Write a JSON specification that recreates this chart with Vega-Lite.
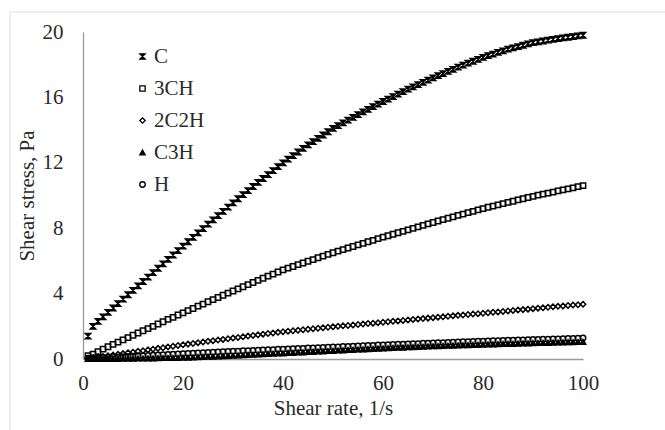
{
  "$schema": "https://vega.github.io/schema/vega-lite/v6.json",
  "width": 500,
  "height": 327,
  "autosize": {"type": "none"},
  "padding": {"left": 83, "top": 32, "right": 82, "bottom": 71},
  "background": "white",
  "config": {
    "view": {"stroke": null},
    "font": "Liberation Serif",
    "axis": {"labelFont": "Liberation Serif", "titleFont": "Liberation Serif", "labelFontSize": 21, "titleFontSize": 21, "labelColor": "#2a2a2a", "titleColor": "#2a2a2a", "titleFontWeight": "normal", "domainColor": "#9a9a9a", "domainWidth": 1.3, "ticks": false, "grid": false, "labelFlush": false},
    "legend": {"labelFont": "Liberation Serif", "labelFontSize": 21, "labelColor": "#2a2a2a"}
  },
  "layer": [
    {
      "data": {"values": [
        {"bx": -14.6, "bx2": -14.6, "by": -4.4, "by2": 21.22},
        {"bx": -14.6, "bx2": 116.6, "by": 21.22, "by2": 21.22}
      ]},
      "mark": {"type": "rule", "color": "#dcdcdc", "strokeWidth": 1, "clip": false},
      "encoding": {
        "x": {"field": "bx", "type": "quantitative", "scale": {"domain": [0, 100], "nice": false}},
        "x2": {"field": "bx2"},
        "y": {"field": "by", "type": "quantitative", "scale": {"domain": [0, 20], "nice": false}},
        "y2": {"field": "by2"}
      }
    },
    {
      "data": {"values": [
{"x":1,"C":1.4,"3CH":0.2,"2C2H":0.05,"C3H":0,"H":0.05},
{"x":2,"C":2.0,"3CH":0.3,"2C2H":0.09,"C3H":0,"H":0.06},
{"x":3,"C":2.3,"3CH":0.45,"2C2H":0.13,"C3H":0.01,"H":0.07},
{"x":4,"C":2.58,"3CH":0.6,"2C2H":0.16,"C3H":0.01,"H":0.09},
{"x":5,"C":2.85,"3CH":0.75,"2C2H":0.2,"C3H":0.01,"H":0.1},
{"x":6,"C":3.12,"3CH":0.89,"2C2H":0.24,"C3H":0.01,"H":0.11},
{"x":7,"C":3.39,"3CH":1.03,"2C2H":0.29,"C3H":0.01,"H":0.13},
{"x":8,"C":3.66,"3CH":1.17,"2C2H":0.33,"C3H":0.02,"H":0.14},
{"x":9,"C":3.93,"3CH":1.31,"2C2H":0.38,"C3H":0.02,"H":0.16},
{"x":10,"C":4.2,"3CH":1.45,"2C2H":0.42,"C3H":0.02,"H":0.17},
{"x":11,"C":4.47,"3CH":1.59,"2C2H":0.47,"C3H":0.03,"H":0.19},
{"x":12,"C":4.74,"3CH":1.73,"2C2H":0.51,"C3H":0.03,"H":0.2},
{"x":13,"C":5.01,"3CH":1.86,"2C2H":0.56,"C3H":0.04,"H":0.22},
{"x":14,"C":5.28,"3CH":2.0,"2C2H":0.6,"C3H":0.04,"H":0.23},
{"x":15,"C":5.55,"3CH":2.14,"2C2H":0.65,"C3H":0.05,"H":0.25},
{"x":16,"C":5.82,"3CH":2.28,"2C2H":0.69,"C3H":0.06,"H":0.26},
{"x":17,"C":6.09,"3CH":2.42,"2C2H":0.74,"C3H":0.06,"H":0.28},
{"x":18,"C":6.36,"3CH":2.55,"2C2H":0.78,"C3H":0.07,"H":0.29},
{"x":19,"C":6.63,"3CH":2.69,"2C2H":0.83,"C3H":0.07,"H":0.31},
{"x":20,"C":6.9,"3CH":2.82,"2C2H":0.87,"C3H":0.08,"H":0.32},
{"x":21,"C":7.17,"3CH":2.96,"2C2H":0.91,"C3H":0.09,"H":0.34},
{"x":22,"C":7.44,"3CH":3.09,"2C2H":0.95,"C3H":0.1,"H":0.35},
{"x":23,"C":7.71,"3CH":3.23,"2C2H":1.0,"C3H":0.12,"H":0.37},
{"x":24,"C":7.98,"3CH":3.36,"2C2H":1.04,"C3H":0.13,"H":0.38},
{"x":25,"C":8.25,"3CH":3.5,"2C2H":1.08,"C3H":0.14,"H":0.4},
{"x":26,"C":8.51,"3CH":3.63,"2C2H":1.12,"C3H":0.15,"H":0.41},
{"x":27,"C":8.77,"3CH":3.76,"2C2H":1.16,"C3H":0.16,"H":0.43},
{"x":28,"C":9.03,"3CH":3.9,"2C2H":1.2,"C3H":0.18,"H":0.44},
{"x":29,"C":9.29,"3CH":4.03,"2C2H":1.24,"C3H":0.19,"H":0.46},
{"x":30,"C":9.55,"3CH":4.16,"2C2H":1.28,"C3H":0.2,"H":0.47},
{"x":31,"C":9.8,"3CH":4.29,"2C2H":1.32,"C3H":0.22,"H":0.48},
{"x":32,"C":10.05,"3CH":4.42,"2C2H":1.36,"C3H":0.23,"H":0.5},
{"x":33,"C":10.3,"3CH":4.55,"2C2H":1.4,"C3H":0.25,"H":0.51},
{"x":34,"C":10.55,"3CH":4.68,"2C2H":1.44,"C3H":0.26,"H":0.52},
{"x":35,"C":10.8,"3CH":4.81,"2C2H":1.48,"C3H":0.28,"H":0.54},
{"x":36,"C":11.04,"3CH":4.94,"2C2H":1.52,"C3H":0.29,"H":0.55},
{"x":37,"C":11.28,"3CH":5.07,"2C2H":1.56,"C3H":0.31,"H":0.56},
{"x":38,"C":11.52,"3CH":5.19,"2C2H":1.59,"C3H":0.32,"H":0.57},
{"x":39,"C":11.76,"3CH":5.32,"2C2H":1.63,"C3H":0.34,"H":0.59},
{"x":40,"C":12.0,"3CH":5.45,"2C2H":1.67,"C3H":0.35,"H":0.6},
{"x":41,"C":12.22,"3CH":5.56,"2C2H":1.7,"C3H":0.37,"H":0.61},
{"x":42,"C":12.44,"3CH":5.66,"2C2H":1.73,"C3H":0.38,"H":0.63},
{"x":43,"C":12.66,"3CH":5.77,"2C2H":1.76,"C3H":0.4,"H":0.64},
{"x":44,"C":12.88,"3CH":5.87,"2C2H":1.79,"C3H":0.41,"H":0.65},
{"x":45,"C":13.1,"3CH":5.98,"2C2H":1.82,"C3H":0.43,"H":0.67},
{"x":46,"C":13.3,"3CH":6.08,"2C2H":1.85,"C3H":0.44,"H":0.68},
{"x":47,"C":13.5,"3CH":6.19,"2C2H":1.88,"C3H":0.46,"H":0.69},
{"x":48,"C":13.7,"3CH":6.29,"2C2H":1.91,"C3H":0.47,"H":0.7},
{"x":49,"C":13.9,"3CH":6.4,"2C2H":1.94,"C3H":0.49,"H":0.72},
{"x":50,"C":14.1,"3CH":6.5,"2C2H":1.97,"C3H":0.5,"H":0.73},
{"x":51,"C":14.27,"3CH":6.6,"2C2H":2.0,"C3H":0.52,"H":0.74},
{"x":52,"C":14.44,"3CH":6.69,"2C2H":2.03,"C3H":0.53,"H":0.76},
{"x":53,"C":14.61,"3CH":6.79,"2C2H":2.05,"C3H":0.55,"H":0.77},
{"x":54,"C":14.78,"3CH":6.88,"2C2H":2.08,"C3H":0.56,"H":0.78},
{"x":55,"C":14.95,"3CH":6.98,"2C2H":2.11,"C3H":0.58,"H":0.8},
{"x":56,"C":15.11,"3CH":7.07,"2C2H":2.14,"C3H":0.59,"H":0.81},
{"x":57,"C":15.27,"3CH":7.17,"2C2H":2.17,"C3H":0.61,"H":0.82},
{"x":58,"C":15.43,"3CH":7.26,"2C2H":2.19,"C3H":0.62,"H":0.83},
{"x":59,"C":15.59,"3CH":7.36,"2C2H":2.22,"C3H":0.64,"H":0.85},
{"x":60,"C":15.75,"3CH":7.45,"2C2H":2.25,"C3H":0.65,"H":0.86},
{"x":61,"C":15.9,"3CH":7.54,"2C2H":2.28,"C3H":0.66,"H":0.87},
{"x":62,"C":16.05,"3CH":7.63,"2C2H":2.31,"C3H":0.68,"H":0.88},
{"x":63,"C":16.2,"3CH":7.72,"2C2H":2.33,"C3H":0.69,"H":0.9},
{"x":64,"C":16.35,"3CH":7.81,"2C2H":2.36,"C3H":0.7,"H":0.91},
{"x":65,"C":16.5,"3CH":7.9,"2C2H":2.39,"C3H":0.72,"H":0.92},
{"x":66,"C":16.64,"3CH":7.99,"2C2H":2.42,"C3H":0.73,"H":0.93},
{"x":67,"C":16.78,"3CH":8.08,"2C2H":2.45,"C3H":0.74,"H":0.94},
{"x":68,"C":16.92,"3CH":8.17,"2C2H":2.47,"C3H":0.75,"H":0.96},
{"x":69,"C":17.06,"3CH":8.26,"2C2H":2.5,"C3H":0.77,"H":0.97},
{"x":70,"C":17.2,"3CH":8.35,"2C2H":2.53,"C3H":0.78,"H":0.98},
{"x":71,"C":17.33,"3CH":8.44,"2C2H":2.56,"C3H":0.79,"H":0.99},
{"x":72,"C":17.46,"3CH":8.52,"2C2H":2.58,"C3H":0.8,"H":1.0},
{"x":73,"C":17.59,"3CH":8.61,"2C2H":2.61,"C3H":0.81,"H":1.01},
{"x":74,"C":17.72,"3CH":8.69,"2C2H":2.64,"C3H":0.82,"H":1.02},
{"x":75,"C":17.85,"3CH":8.78,"2C2H":2.67,"C3H":0.83,"H":1.04},
{"x":76,"C":17.97,"3CH":8.86,"2C2H":2.69,"C3H":0.84,"H":1.05},
{"x":77,"C":18.09,"3CH":8.95,"2C2H":2.72,"C3H":0.85,"H":1.06},
{"x":78,"C":18.21,"3CH":9.03,"2C2H":2.75,"C3H":0.86,"H":1.07},
{"x":79,"C":18.33,"3CH":9.12,"2C2H":2.77,"C3H":0.87,"H":1.08},
{"x":80,"C":18.45,"3CH":9.2,"2C2H":2.8,"C3H":0.88,"H":1.09},
{"x":81,"C":18.55,"3CH":9.28,"2C2H":2.83,"C3H":0.89,"H":1.1},
{"x":82,"C":18.65,"3CH":9.35,"2C2H":2.86,"C3H":0.9,"H":1.11},
{"x":83,"C":18.75,"3CH":9.43,"2C2H":2.88,"C3H":0.91,"H":1.12},
{"x":84,"C":18.85,"3CH":9.5,"2C2H":2.91,"C3H":0.92,"H":1.13},
{"x":85,"C":18.95,"3CH":9.58,"2C2H":2.94,"C3H":0.93,"H":1.14},
{"x":86,"C":19.03,"3CH":9.65,"2C2H":2.97,"C3H":0.93,"H":1.15},
{"x":87,"C":19.11,"3CH":9.73,"2C2H":3.0,"C3H":0.94,"H":1.16},
{"x":88,"C":19.19,"3CH":9.8,"2C2H":3.02,"C3H":0.95,"H":1.17},
{"x":89,"C":19.27,"3CH":9.88,"2C2H":3.05,"C3H":0.96,"H":1.18},
{"x":90,"C":19.35,"3CH":9.95,"2C2H":3.08,"C3H":0.97,"H":1.19},
{"x":91,"C":19.4,"3CH":10.02,"2C2H":3.11,"C3H":0.98,"H":1.2},
{"x":92,"C":19.45,"3CH":10.08,"2C2H":3.13,"C3H":0.99,"H":1.21},
{"x":93,"C":19.5,"3CH":10.15,"2C2H":3.16,"C3H":0.99,"H":1.21},
{"x":94,"C":19.55,"3CH":10.21,"2C2H":3.19,"C3H":1.0,"H":1.22},
{"x":95,"C":19.6,"3CH":10.28,"2C2H":3.22,"C3H":1.01,"H":1.23},
{"x":96,"C":19.64,"3CH":10.34,"2C2H":3.24,"C3H":1.02,"H":1.24},
{"x":97,"C":19.68,"3CH":10.41,"2C2H":3.27,"C3H":1.03,"H":1.25},
{"x":98,"C":19.72,"3CH":10.47,"2C2H":3.3,"C3H":1.03,"H":1.26},
{"x":99,"C":19.76,"3CH":10.54,"2C2H":3.32,"C3H":1.04,"H":1.27},
{"x":100,"C":19.8,"3CH":10.6,"2C2H":3.35,"C3H":1.05,"H":1.28}
      ]},
      "transform": [{"fold": ["C", "3CH", "2C2H", "C3H", "H"], "as": ["series", "value"]}],
      "mark": {"type": "point", "strokeWidth": 1.5, "opacity": 1, "clip": false},
      "encoding": {
        "x": {"field": "x", "type": "quantitative", "scale": {"domain": [0, 100], "nice": false},
          "axis": {"values": [0, 20, 40, 60, 80, 100], "title": "Shear rate, 1/s", "labelPadding": 13, "titlePadding": 4}},
        "y": {"field": "value", "type": "quantitative", "scale": {"domain": [0, 20], "nice": false},
          "axis": {"values": [0, 4, 8, 12, 16, 20], "title": "Shear stress, Pa", "labelPadding": 20, "titlePadding": 5}},
        "size": {"field": "series", "type": "nominal",
          "scale": {"domain": ["C", "3CH", "2C2H", "C3H", "H"], "range": [28, 30, 20, 20, 20]},
          "legend": {"title": null, "orient": "none", "legendX": 49, "legendY": 14, "padding": 0, "rowPadding": 10, "labelOffset": 1, "symbolStrokeWidth": 1.3}},
        "shape": {"field": "series", "type": "nominal",
          "scale": {"domain": ["C", "3CH", "2C2H", "C3H", "H"], "range": ["M-1,-1L1,-1L-1,1L1,1Z", "square", "diamond", "triangle-up", "circle"]},
          "legend": {"title": null, "orient": "none", "legendX": 49, "legendY": 14, "padding": 0, "rowPadding": 10, "labelOffset": 1, "symbolStrokeWidth": 1.3}},
        "fill": {"field": "series", "type": "nominal",
          "scale": {"domain": ["C", "3CH", "2C2H", "C3H", "H"], "range": ["black", "transparent", "transparent", "black", "transparent"]},
          "legend": {"title": null, "orient": "none", "legendX": 49, "legendY": 14, "padding": 0, "rowPadding": 10, "labelOffset": 1, "symbolStrokeWidth": 1.3}},
        "stroke": {"field": "series", "type": "nominal",
          "scale": {"domain": ["C", "3CH", "2C2H", "C3H", "H"], "range": ["black", "black", "black", "black", "black"]},
          "legend": {"title": null, "orient": "none", "legendX": 49, "legendY": 14, "padding": 0, "rowPadding": 10, "labelOffset": 1, "symbolStrokeWidth": 1.3}}
      }
    }
  ]
}
